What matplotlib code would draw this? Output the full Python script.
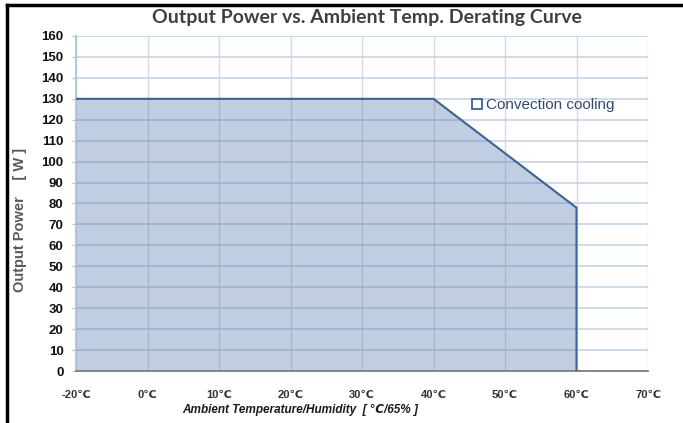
import matplotlib.pyplot as plt
from matplotlib.lines import Line2D

# Data (category axis, as in the original Excel chart)
temp_labels = ['-20℃', '0℃', '10℃', '20℃', '30℃', '40℃', '50℃', '60℃', '70℃']
power = [130, 130, 130, 130, 130, 130, 104, 78]   # -20 .. 60 ℃
y_ticks = list(range(0, 170, 10))

fill_col = '#4f72a8'
edge_col = '#3c6296'
text_font = ['Liberation Sans', 'DejaVu Sans']
tick_font = ['Liberation Sans Narrow', 'Liberation Sans', 'DejaVu Sans']

fig = plt.figure(figsize=(6.83, 4.23), dpi=100)
ax = fig.add_axes([76/683, 1-371/423, (648-76)/683, (371-36)/423])

x = list(range(len(power)))
ax.fill_between(x, power, 0, color=fill_col, alpha=0.35, linewidth=0,
                label='Convection cooling', zorder=2)
# outline: top curve plus the vertical drop at the last point
ax.plot(x + [x[-1]], power + [0], color=edge_col, lw=1.5, zorder=3)

ax.set_xlim(0, len(temp_labels) - 1)
ax.set_ylim(0, 160)
ax.set_xticks(range(len(temp_labels)))
ax.set_xticklabels(temp_labels)
ax.set_yticks(y_ticks)

for lab in ax.get_xticklabels():
    lab.set_family(tick_font)
    lab.set_fontweight('bold')
    lab.set_fontsize(8)
    lab.set_color('#333333')
for lab in ax.get_yticklabels():
    lab.set_family(tick_font)
    lab.set_fontweight('bold')
    lab.set_fontsize(9.5)
    lab.set_color('#111111')

ax.tick_params(axis='x', length=0, pad=14)
ax.tick_params(axis='y', length=3, color='#a9c0e0', pad=6)

ax.yaxis.grid(True, color='#c3d4ec', lw=1.2, zorder=0)
ax.xaxis.grid(True, color='#d9d9d9', lw=1.0, zorder=0)
ax.set_axisbelow(True)

ax.spines['top'].set_visible(False)
ax.spines['right'].set_visible(False)
ax.spines['left'].set_color('#a9c0e0')
ax.spines['left'].set_linewidth(1.2)
ax.spines['bottom'].set_color('#7f7f7f')
ax.spines['bottom'].set_linewidth(1.3)

handle = Line2D([], [], marker='s', linestyle='none', markersize=7,
                markerfacecolor='white', markeredgecolor=edge_col, markeredgewidth=1.3)
leg = ax.legend([handle], ['Convection cooling'], loc='center left',
                bbox_to_anchor=(0.69, 0.794), frameon=False, handlelength=0.8,
                handletextpad=0.2, borderpad=0, borderaxespad=0,
                prop={'family': text_font, 'size': 11})
for t in leg.get_texts():
    t.set_color('#2e4a72')

fig.text(367/683, 1-18/423, 'Output Power vs. Ambient Temp. Derating Curve',
         ha='center', va='center', fontsize=14, fontweight='bold',
         family=['Lato', 'DejaVu Sans'], color='#404040')
fig.text(20/683, 1-220/423, 'Output Power    [ W ]', rotation=90,
         ha='center', va='center', fontsize=10.5, fontweight='bold',
         family=text_font, color='#595959')
fig.text(300/683, 1-410/423, 'Ambient Temperature/Humidity  [ ℃/65% ]',
         ha='center', va='center', fontsize=8.5, fontweight='bold',
         fontstyle='italic', family=text_font, color='#1a1a1a')

# outer frame (top and left edges only are visible in the crop)
fig.add_artist(Line2D([7/683, 7/683], [0, 1-5/423], transform=fig.transFigure,
                      color='black', lw=2.5))
fig.add_artist(Line2D([7/683, 1], [1-5/423, 1-5/423], transform=fig.transFigure,
                      color='black', lw=2.5))

fig.savefig('out.png', dpi=100)
